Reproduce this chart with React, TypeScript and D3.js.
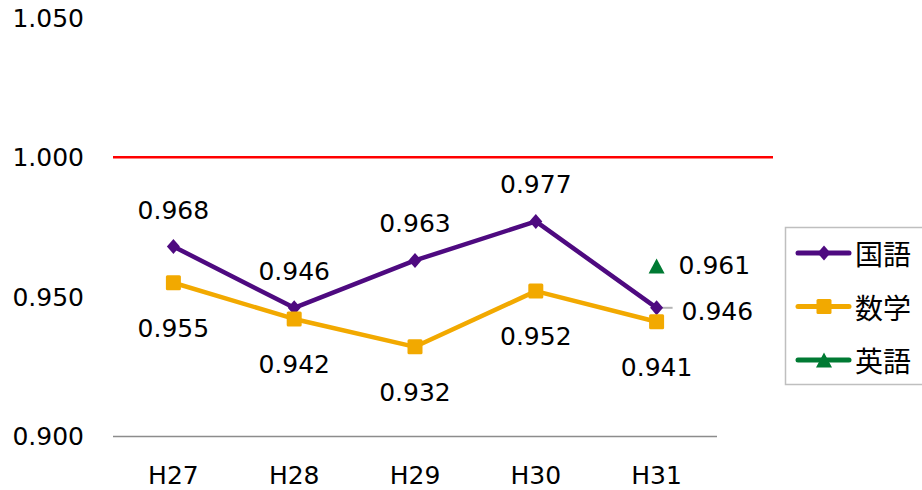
import React from "react";
import * as d3 from "d3";

const categories = ["H27", "H28", "H29", "H30", "H31"];
const kokugo = [0.968, 0.946, 0.963, 0.977, 0.946];
const sugaku = [0.955, 0.942, 0.932, 0.952, 0.941];
const eigo: (number | null)[] = [null, null, null, null, 0.961];
const yTicks = [0.9, 0.95, 1.0, 1.05];
const referenceValue = 1.0;
const seriesNames = ["国語", "数学", "英語"];

const W = 922;
const H = 490;
const FONT = "'DejaVu Sans', Verdana, sans-serif";
const CJK = "'Noto Sans CJK JP', 'Noto Sans CJK SC', sans-serif";

const PURPLE = "#4e0a80";
const YELLOW = "#f2a900";
const GREEN = "#007a33";

const x = d3.scaleBand<string>().domain(categories).range([113, 717]);
const cx = (c: string) => (x(c) as number) + x.bandwidth() / 2;
const y = d3.scaleLinear().domain([0.9, 1.05]).range([436, 18]);

const fmt = d3.format(".3f");

function Marker({ kind, px, py, color, s = 1 }: { kind: string; px: number; py: number; color: string; s?: number }) {
  if (kind === "diamond") {
    const w = 6.5 * s, h = 7.5 * s;
    return <path d={`M${px},${py - h}L${px + w},${py}L${px},${py + h}L${px - w},${py}Z`} fill={color} />;
  }
  if (kind === "square") {
    const a = 7.5 * s;
    return <rect x={px - a} y={py - a} width={2 * a} height={2 * a} rx={1.5} fill={color} />;
  }
  const w = 8 * s, h = 7.5 * s;
  return <path d={`M${px},${py - h}L${px + w},${py + h}L${px - w},${py + h}Z`} fill={color} />;
}

export default function App() {
  const line = d3
    .line<number>()
    .x((_, i) => cx(categories[i]))
    .y((d) => y(d));

  const series = [
    { name: seriesNames[0], data: kokugo as (number | null)[], color: PURPLE, kind: "diamond" },
    { name: seriesNames[1], data: sugaku as (number | null)[], color: YELLOW, kind: "square" },
    { name: seriesNames[2], data: eigo, color: GREEN, kind: "triangle" },
  ];

  const last = categories.length - 1;

  return (
    <svg width={W} height={H} style={{ position: "absolute", left: 0, top: 0, background: "#fff" }}>
      {/* y tick labels */}
      {yTicks.map((t) => (
        <text key={t} x={84} y={y(t) + 9} textAnchor="end" fontFamily={FONT} fontSize={25} fill="#000">
          {fmt(t)}
        </text>
      ))}
      {/* x axis */}
      <line x1={113} x2={717} y1={y(0.9) + 0.5} y2={y(0.9) + 0.5} stroke="#8c8c8c" strokeWidth={1.5} />
      {categories.map((c) => (
        <text key={c} x={cx(c)} y={484} textAnchor="middle" fontFamily={FONT} fontSize={25} fill="#000">
          {c}
        </text>
      ))}
      {/* reference line */}
      <line x1={113} x2={773} y1={y(referenceValue)} y2={y(referenceValue)} stroke="#ff0000" strokeWidth={2.5} />

      {/* lines */}
      <path d={line(kokugo) || ""} fill="none" stroke={PURPLE} strokeWidth={4.5} strokeLinejoin="round" />
      <path d={line(sugaku) || ""} fill="none" stroke={YELLOW} strokeWidth={4.5} strokeLinejoin="round" />

      {/* leader line for H31 国語 label */}
      <line x1={cx(categories[last]) + 3} x2={cx(categories[last]) + 16} y1={y(kokugo[last])} y2={y(kokugo[last])} stroke="#b5b5b5" strokeWidth={2} />

      {/* markers */}
      {series.map((s) =>
        s.data.map((v, i) =>
          v == null ? null : <Marker key={s.name + i} kind={s.kind} px={cx(categories[i])} py={y(v)} color={s.color} />
        )
      )}

      {/* data labels */}
      {kokugo.map((v, i) =>
        i === last ? (
          <text key={"k" + i} x={cx(categories[i]) + 25} y={y(v) + 12} fontFamily={FONT} fontSize={25} fill="#000">
            {fmt(v)}
          </text>
        ) : (
          <text key={"k" + i} x={cx(categories[i])} y={y(v) - 28} textAnchor="middle" fontFamily={FONT} fontSize={25} fill="#000">
            {fmt(v)}
          </text>
        )
      )}
      {sugaku.map((v, i) => (
        <text key={"s" + i} x={cx(categories[i])} y={y(v) + 54} textAnchor="middle" fontFamily={FONT} fontSize={25} fill="#000">
          {fmt(v)}
        </text>
      ))}
      {eigo.map((v, i) =>
        v == null ? null : (
          <text key={"e" + i} x={cx(categories[i]) + 22} y={y(v) + 8} fontFamily={FONT} fontSize={25} fill="#000">
            {fmt(v)}
          </text>
        )
      )}

      {/* legend */}
      <rect x={785.5} y={227.5} width={160} height={157} fill="#fff" stroke="#bfbfbf" strokeWidth={1.5} />
      {series.map((s, i) => {
        const ly = 253 + i * 53.5;
        return (
          <g key={s.name}>
            <line x1={798} x2={849} y1={ly} y2={ly} stroke={s.color} strokeWidth={5} strokeLinecap="round" />
            <Marker kind={s.kind} px={824} py={ly} color={s.color} s={1} />
            <text x={855} y={ly + 12} fontFamily={CJK} fontSize={28} fill="#000">
              {s.name}
            </text>
          </g>
        );
      })}
    </svg>
  );
}
